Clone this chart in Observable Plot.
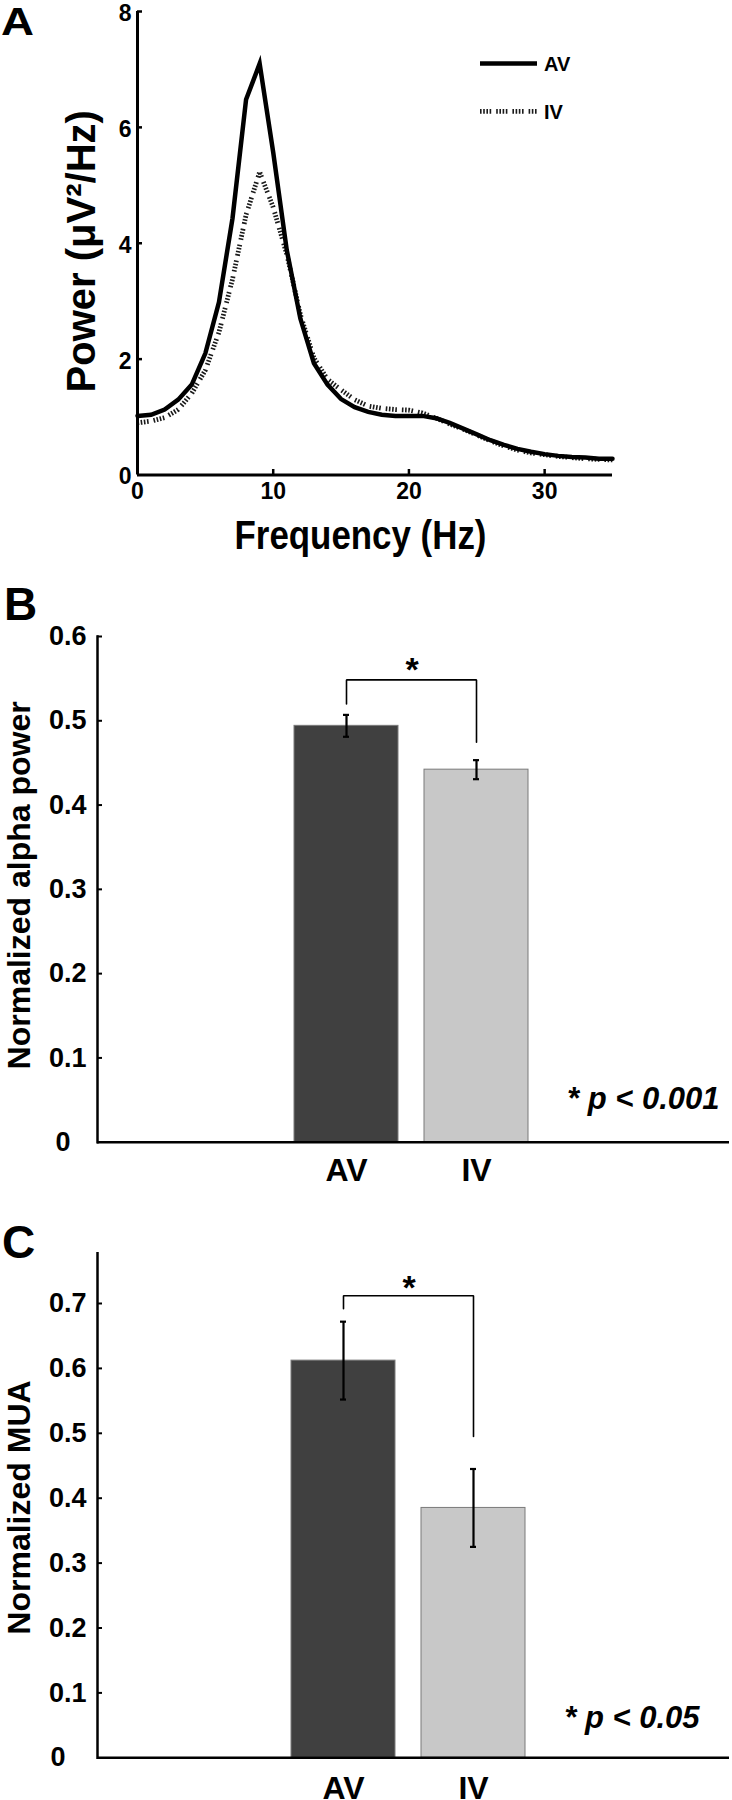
<!DOCTYPE html>
<html><head><meta charset="utf-8">
<script src="https://cdn.jsdelivr.net/npm/d3@7"></script>
<script src="https://cdn.jsdelivr.net/npm/@observablehq/plot@0.6"></script>
<style>
body{margin:0;background:#fff;}
#wrap{position:relative;width:732px;height:1800px;overflow:hidden;background:#fff;}
.panel{position:absolute;left:0;}
#overlay{position:absolute;left:0;top:0;pointer-events:none;}
</style></head><body><div id="wrap"></div>
<script>
// ---------- data ----------
const freqHz = [0,1,2,3,4,5,6,7,8,9,10,11,12,13,14,15,16,17,18,19,20,21,22,23,24,25,26,27,28,29,30,31,32,33,34,35];
const powerAV = [1.02,1.04,1.13,1.30,1.56,2.10,2.98,4.43,6.48,7.10,5.57,3.88,2.70,1.93,1.56,1.31,1.17,1.09,1.04,1.02,1.02,1.02,0.98,0.90,0.80,0.70,0.60,0.52,0.45,0.40,0.36,0.33,0.31,0.30,0.28,0.28];
const powerIV = [0.90,0.93,0.99,1.13,1.41,1.81,2.46,3.38,4.49,5.23,4.62,3.81,2.77,2.02,1.65,1.47,1.30,1.19,1.15,1.13,1.12,1.07,0.98,0.88,0.79,0.69,0.59,0.50,0.43,0.38,0.35,0.32,0.30,0.28,0.27,0.26];
const freqTicks = [0,10,20,30];
const powerTicks = [0,2,4,6,8];

const groups = ["AV","IV"];
const groupColors = ["#404040","#c8c8c8"];

const alphaMean = [0.494, 0.442];
const alphaSem = [0.013, 0.0113];
const alphaTicks = [0.1,0.2,0.3,0.4,0.5,0.6];
const alphaBracket = {top:0.5485, left:0.520, right:0.4745};

const muaMean = [0.612, 0.385];
const muaSem = [0.060, 0.060];
const muaTicks = [0.1,0.2,0.3,0.4,0.5,0.6,0.7];
const muaBracket = {top:0.712, left:0.692, right:0.495};

const FONT = '"Liberation Sans", Arial, Helvetica, sans-serif';
const IV_DASH = "1.6,1.6,1.6,1.6,1.6,1.6,1.6,5";
const wrap = document.getElementById("wrap");

function place(svg, top){
  const d = document.createElement("div");
  d.className = "panel"; d.style.top = top + "px";
  d.appendChild(svg); wrap.appendChild(d);
}

// ---------- panel A ----------
const avRows = freqHz.map((f,i)=>({f, p: powerAV[i]}));
const ivRows = freqHz.map((f,i)=>({f, p: powerIV[i]}));
const A = Plot.plot({
  width:732, height:560,
  marginLeft:137, marginRight:120, marginTop:11, marginBottom:85.5,
  style:{fontFamily:FONT, fontWeight:"bold", fontSize:"23px", color:"#000", background:"transparent", overflow:"visible"},
  x:{domain:[0,35]},
  y:{domain:[0,8]},
  marks:[
    Plot.line(ivRows,{x:"f", y:"p", stroke:"#1a1a1a", strokeWidth:4.8, strokeDasharray:IV_DASH, strokeLinecap:"butt"}),
    Plot.line(avRows,{x:"f", y:"p", stroke:"#000", strokeWidth:4.5, strokeLinejoin:"miter", strokeMiterlimit:6}),
    Plot.ruleX([0],{strokeWidth:3}),
    Plot.ruleY([0],{strokeWidth:3}),
    Plot.ruleY(powerTicks.slice(1),{strokeWidth:2.5, insetRight:470}),
    Plot.ruleX(freqTicks.slice(1),{strokeWidth:2.5, insetTop:458}),
    Plot.axisY(powerTicks,{tickSize:0, tickPadding:6, dy:2, tickFormat:d3.format("d"), fontSize:23, label:null}),
    Plot.axisX(freqTicks,{tickSize:0, tickPadding:8, tickFormat:d3.format("d"), fontSize:23, label:null}),
    Plot.text(["Frequency (Hz)"],{text:d=>d, frameAnchor:"bottom", textAnchor:"middle", lineAnchor:"bottom", dy:73.5, dx:-14.5, fontSize:40, fontWeight:"bold"}),
    Plot.text(["Power (μV²/Hz)"],{text:d=>d, frameAnchor:"left", textAnchor:"middle", rotate:-90, lineAnchor:"middle", dx:-55.6, dy:8, fontSize:40, fontWeight:"bold"})
  ]
});
place(A, 0);

// ---------- bar panels ----------
function barPanel(o){
  const rows = groups.map((g,i)=>({g, m:o.means[i], s:o.sems[i]}));
  const br = o.bracket;
  const bracketPts = [{g:"AV", y:br.left},{g:"AV", y:br.top},{g:"IV", y:br.top},{g:"IV", y:br.right}];
  const frameW = 732 - 97 - 3;
  return Plot.plot({
    width:732, height:o.height,
    marginLeft:97, marginRight:3, marginTop:o.marginTop, marginBottom:o.marginBottom,
    style:{fontFamily:FONT, fontWeight:"bold", fontSize:"27px", color:"#000", background:"transparent", overflow:"visible"},
    x:{type:"band", domain:groups, range:o.range, paddingInner:0.2, paddingOuter:0, align:0.5},
    y:{domain:[0,o.ymax]},
    color:{domain:groups, range:groupColors},
    marks:[
      Plot.barY(rows,{x:"g", y:"m", fill:"g", stroke:"#7a7a7a", strokeWidth:1}),
      Plot.ruleX(rows,{x:"g", y1:d=>d.m-d.s, y2:d=>d.m+d.s, strokeWidth:2.2}),
      Plot.tickY(rows,{x:"g", y:d=>d.m+d.s, insetLeft:49, insetRight:49, strokeWidth:2.2}),
      Plot.tickY(rows,{x:"g", y:d=>d.m-d.s, insetLeft:49, insetRight:49, strokeWidth:2.2}),
      Plot.line(bracketPts,{x:"g", y:"y", strokeWidth:1.6, curve:"linear", strokeLinejoin:"miter"}),
      Plot.text([{g:"AV", y:br.top}],{x:"g", y:"y", text:()=>"*", dx:65.5, dy:o.starDy, lineAnchor:"bottom", fontSize:34, fontWeight:"bold"}),
      Plot.frame({anchor:"left", strokeWidth:2.5}),
      Plot.ruleY([0],{strokeWidth:2.5}),
      Plot.ruleY(o.ticks,{strokeWidth:2, insetRight:frameW-5}),
      Plot.axisY(o.ticks,{tickSize:0, tickPadding:11, tickFormat:d3.format(".1f"), fontSize:27, label:null}),
      Plot.axisY([0],{tickSize:0, tickPadding:o.zeroPad, tickFormat:()=>"0", fontSize:27, label:null}),
      Plot.axisX({tickSize:0, tickPadding:o.xPad, fontSize:32, label:null}),
      Plot.text([o.pText],{text:d=>d, frameAnchor:"bottom-right", textAnchor:"end", lineAnchor:"bottom", dx:o.pDx, dy:o.pDy, fontStyle:"italic", fontWeight:"bold", fontSize:31}),
      Plot.text([o.yLabel],{text:d=>d, frameAnchor:"left", textAnchor:"middle", rotate:-90, lineAnchor:"middle", dx:o.labelDx, dy:o.labelDy, fontSize:32, fontWeight:"bold"})
    ]
  });
}

const B = barPanel({
  means:alphaMean, sems:alphaSem, ticks:alphaTicks, ymax:0.6, bracket:alphaBracket,
  height:640, marginTop:76, marginBottom:58.3, range:[292.7,528.3],
  zeroPad:27, xPad:16, starDy:1, pText:"* p < 0.001", pDx:-10, pDy:-33.7,
  yLabel:"Normalized alpha power", labelDx:-78, labelDy:-4
});
place(B, 560);

const C = barPanel({
  means:muaMean, sems:muaSem, ticks:muaTicks, ymax:0.7775, bracket:muaBracket,
  height:600, marginTop:52.7, marginBottom:42.7, range:[290,525.3],
  zeroPad:32, xPad:18.7, starDy:3, pText:"* p < 0.05", pDx:-30, pDy:-30,
  yLabel:"Normalized MUA", labelDx:-78, labelDy:2
});
place(C, 1200);

// stretch the condensed frequency label to its measured length
A.querySelectorAll("text").forEach(t=>{
  if (t.textContent === "Frequency (Hz)") { t.setAttribute("textLength", 252); t.setAttribute("lengthAdjust", "spacingAndGlyphs"); }
});

// ---------- overlay: panel letters + legend ----------
const ov = d3.select(wrap).append("svg").attr("id","overlay").attr("width",732).attr("height",1800)
  .style("font-family", FONT).style("font-weight","bold");
ov.append("text").attr("x",1).attr("y",35).attr("font-size",38).attr("textLength",33).attr("lengthAdjust","spacingAndGlyphs").text("A");
ov.append("text").attr("x",4).attr("y",620).attr("font-size",46).text("B");
ov.append("text").attr("x",2).attr("y",1258).attr("font-size",46).text("C");
const leg = [{name:"AV", y:63.6, dash:null, w:4.5},{name:"IV", y:111.4, dash:IV_DASH, w:4.8}];
leg.forEach(l=>{
  const ln = ov.append("line").attr("x1",480).attr("x2",537).attr("y1",l.y).attr("y2",l.y)
    .attr("stroke", l.dash ? "#1a1a1a" : "#000").attr("stroke-width", l.w);
  if (l.dash) ln.attr("stroke-dasharray", l.dash);
  ov.append("text").attr("x",544).attr("y",l.y+7.5).attr("font-size",20).text(l.name);
});
</script></body></html>
